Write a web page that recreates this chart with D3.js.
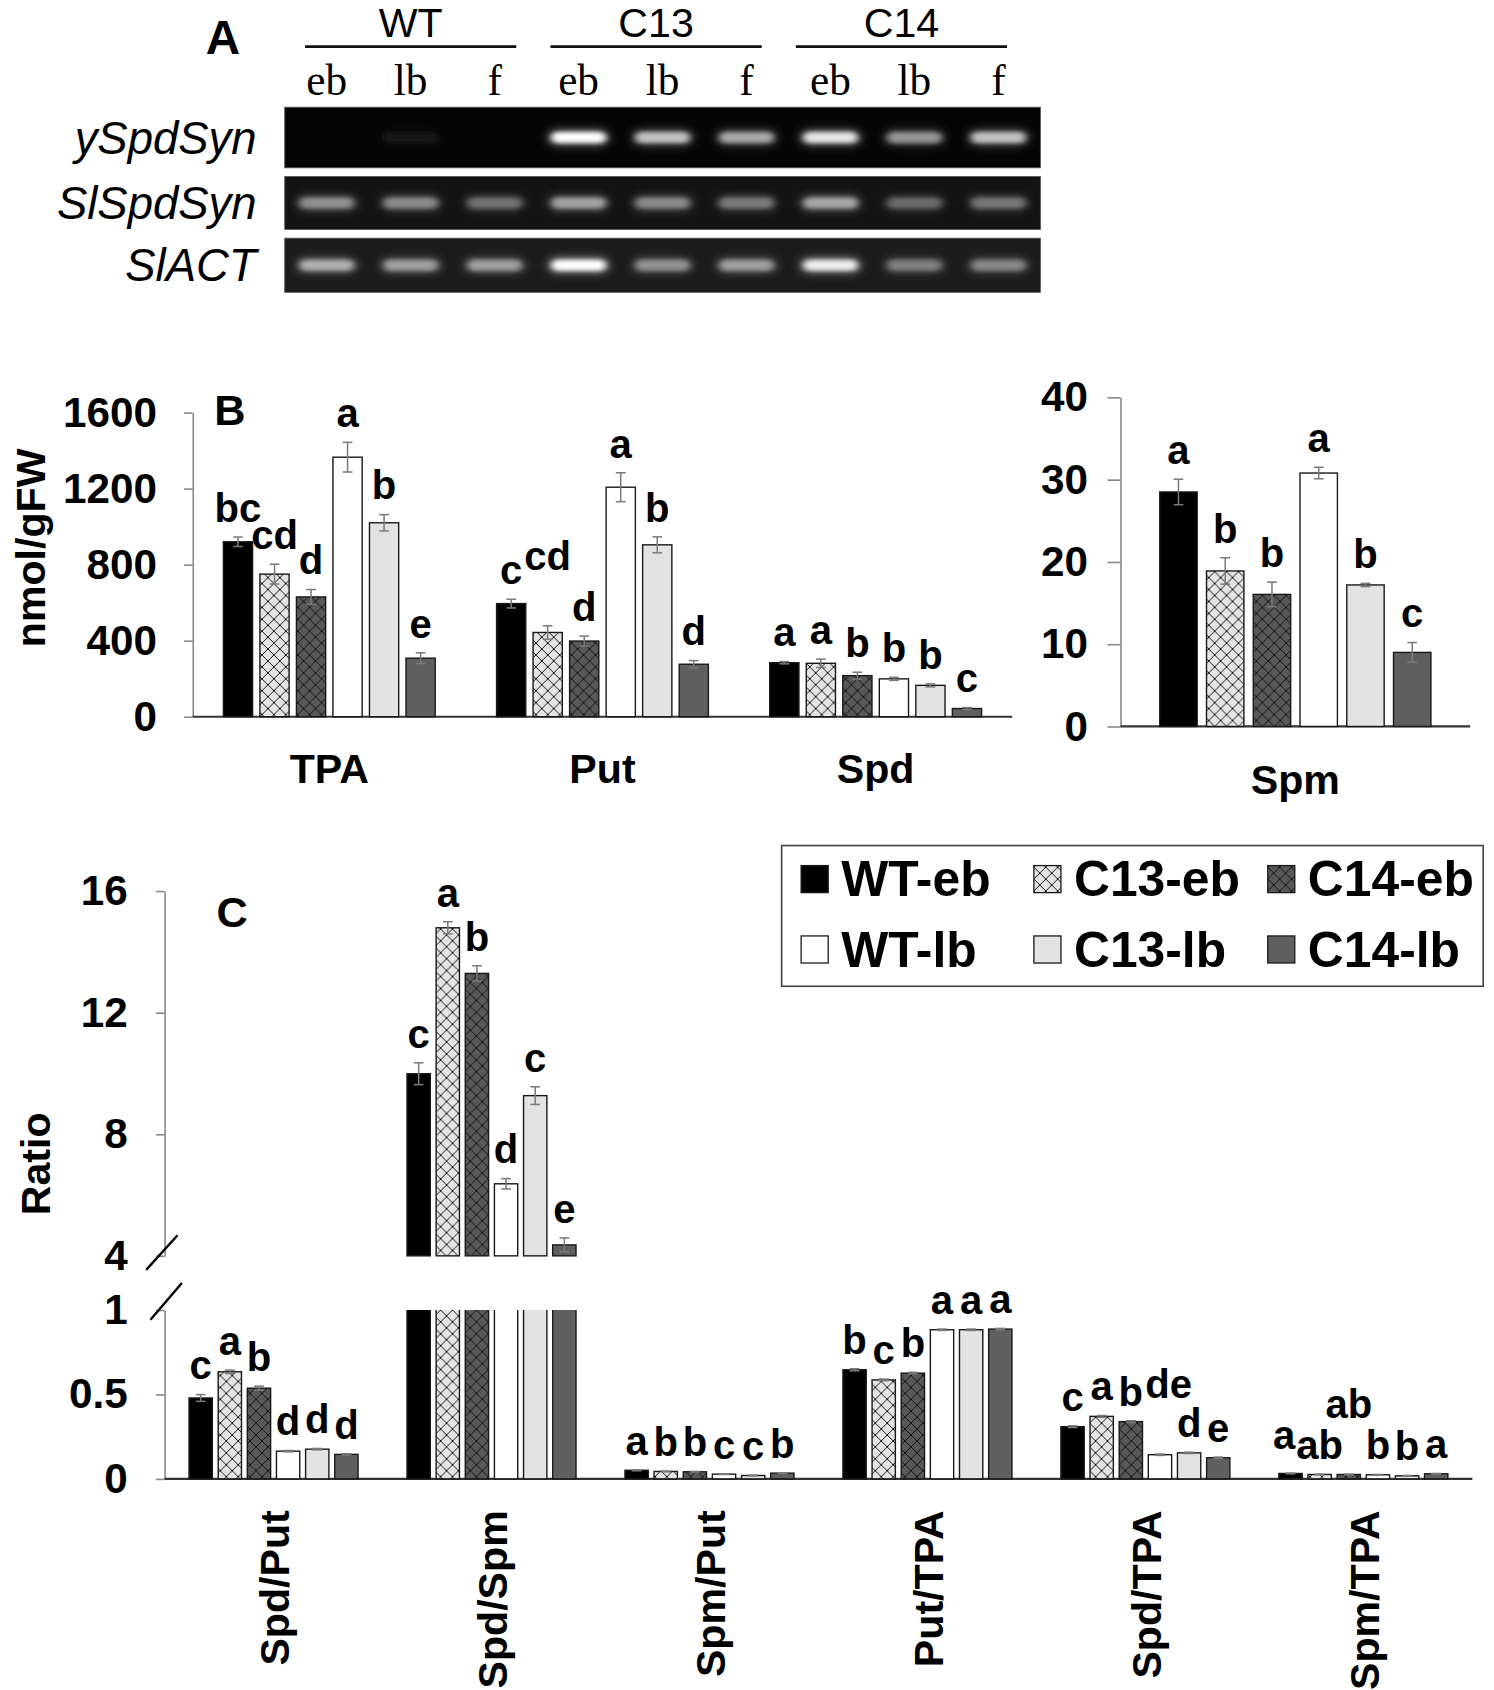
<!DOCTYPE html>
<html>
<head>
<meta charset="utf-8">
<script src="https://cdn.jsdelivr.net/npm/d3@7"></script>
<style>
  body { margin: 0; background: #fff; }
  svg { display: block; font-family: 'Liberation Sans', Arial, sans-serif; }
  .bold { font-weight: bold; }
  .letter { font-weight: bold; font-size: 37px; }
</style>
</head>
<body>
<div id="chart"></div>
<script>
// ---- panel A: RT-PCR gel ----
const gelLines = ['WT', 'C13', 'C14']
const gelStages = ['eb', 'lb', 'f']
const gelGenes = ['ySpdSyn', 'SlSpdSyn', 'SlACT']
const ySpdSynBand = [0, 0.07, 0, 0.95, 0.72, 0.62, 0.85, 0.55, 0.72]
const slSpdSynBand = [0.5, 0.48, 0.38, 0.58, 0.48, 0.42, 0.6, 0.35, 0.4]
const slActBand = [0.62, 0.55, 0.55, 1, 0.5, 0.55, 0.88, 0.42, 0.45]

// ---- panel B: polyamine content (nmol/gFW) ----
const series = ['WT-eb', 'C13-eb', 'C14-eb', 'WT-lb', 'C13-lb', 'C14-lb']
const amineGroups = ['TPA', 'Put', 'Spd']
const tpaMean = [920, 750, 630, 1365, 1020, 308]
const tpaErr = [25, 52, 39, 78, 43, 28]
const tpaLetters = ['bc', 'cd', 'd', 'a', 'b', 'e']
const putMean = [595, 443, 398, 1207, 904, 276]
const putErr = [23, 35, 26, 76, 42, 19]
const putLetters = ['c', 'cd', 'd', 'a', 'b', 'd']
const spdMean = [284, 281, 216, 199, 165, 43]
const spdErr = [6, 22, 18, 8, 8, 5]
const spdLetters = ['a', 'a', 'b', 'b', 'b', 'c']
const spmMean = [28.5, 18.9, 16.05, 30.8, 17.2, 9.0]
const spmErr = [1.55, 1.6, 1.5, 0.7, 0.2, 1.2]
const spmLetters = ['a', 'b', 'b', 'a', 'b', 'c']
const amineTicks = [0, 400, 800, 1200, 1600]
const spmTicks = [0, 10, 20, 30, 40]

// ---- panel C: ratios ----
const ratioGroups = ['Spd/Put', 'Spd/Spm', 'Spm/Put', 'Put/TPA', 'Spd/TPA', 'Spm/TPA']
const spdPutMean = [0.479, 0.634, 0.537, 0.164, 0.176, 0.145]
const spdPutErr = [0.02, 0.01, 0.012, 0.004, 0.004, 0.004]
const spdPutLetters = ['c', 'a', 'b', 'd', 'd', 'd']
const spdSpmMean = [9.99, 14.79, 13.29, 6.37, 9.27, 4.36]
const spdSpmErr = [0.36, 0.2, 0.25, 0.17, 0.29, 0.23]
const spdSpmLetters = ['c', 'a', 'b', 'd', 'c', 'e']
const spmPutMean = [0.051, 0.044, 0.042, 0.028, 0.02, 0.034]
const spmPutErr = [0.003, 0.002, 0.002, 0.002, 0.002, 0.002]
const spmPutLetters = ['a', 'b', 'b', 'c', 'c', 'b']
const putTpaMean = [0.646, 0.586, 0.626, 0.883, 0.883, 0.887]
const putTpaErr = [0.006, 0.005, 0.005, 0.004, 0.004, 0.004]
const putTpaLetters = ['b', 'c', 'b', 'a', 'a', 'a']
const spdTpaMean = [0.309, 0.37, 0.339, 0.143, 0.154, 0.125]
const spdTpaErr = [0.005, 0.005, 0.005, 0.004, 0.004, 0.004]
const spdTpaLetters = ['c', 'a', 'b', 'de', 'd', 'e']
const spmTpaMean = [0.032, 0.026, 0.026, 0.024, 0.018, 0.03]
const spmTpaErr = [0.002, 0.002, 0.002, 0.002, 0.002, 0.002]
const spmTpaLetters = ['a', 'ab', 'ab', 'b', 'b', 'a']
const ratioUpperTicks = [4, 8, 12, 16]
const ratioLowerTicks = [0, 0.5, 1]
// --------------------------------------------

const seriesFill = ['#000', 'url(#hatch-light)', 'url(#hatch-dark)', '#fff', '#e3e3e3', '#5f5f5f']

const svg = d3.select('#chart').append('svg')
  .attr('width', 1494).attr('height', 1690)
  .attr('viewBox', '0 0 1380 1561')

const defs = svg.append('defs')
const hatch = (id, bg) => {
  const p = defs.append('pattern').attr('id', id)
    .attr('patternUnits', 'userSpaceOnUse').attr('width', 11).attr('height', 11)
  p.append('rect').attr('width', 11).attr('height', 11).attr('fill', bg)
  p.append('path').attr('d', 'M0,0L11,11M11,0L0,11')
    .attr('stroke', '#111').attr('stroke-width', 0.9)
}
hatch('hatch-light', '#e4e4e4')
hatch('hatch-dark', '#585858')
defs.append('filter').attr('id', 'glow').attr('x', '-50%').attr('y', '-100%').attr('width', '200%').attr('height', '300%')
  .append('feGaussianBlur').attr('stdDeviation', '5 4')
defs.append('filter').attr('id', 'core').attr('x', '-50%').attr('y', '-100%').attr('width', '200%').attr('height', '300%')
  .append('feGaussianBlur').attr('stdDeviation', '3.5 2.2')
defs.append('clipPath').attr('id', 'clip-low')
  .append('rect').attr('x', 0).attr('y', 1210).attr('width', 1380).attr('height', 200)

// ================= panel A =================
const drawGel = () => {
  const a = svg.append('g')
  a.append('text').attr('class', 'bold').attr('x', 206).attr('y', 50)
    .attr('text-anchor', 'middle').attr('font-size', 44).text('A')

  const lanes = gelLines.flatMap(l => gelStages.map(s => l + '-' + s))
  const lane = d3.scaleBand().domain(lanes).range([263, 961])
  const laneCenter = l => lane(l) + lane.bandwidth() / 2

  gelLines.forEach((l, i) => {
    const first = laneCenter(l + '-' + gelStages[0])
    const last = laneCenter(l + '-' + gelStages[gelStages.length - 1])
    const shift = -6 * i
    a.append('line').attr('x1', first - 20 + shift).attr('x2', last + 20 + shift)
      .attr('y1', 43).attr('y2', 43).attr('stroke', '#111').attr('stroke-width', 2.5)
    a.append('text').attr('x', (first + last) / 2 + shift).attr('y', 34)
      .attr('text-anchor', 'middle').attr('font-size', 38).text(l)
  })

  a.selectAll('text.lane').data(lanes).join('text').attr('class', 'lane')
    .attr('x', laneCenter).attr('y', 88).attr('text-anchor', 'middle')
    .attr('font-family', "'Liberation Serif', 'Times New Roman', serif").attr('font-size', 40)
    .text(d => d.split('-')[1])

  const rows = [
    { top: 99, bottom: 155, bg: '#050505', bands: ySpdSynBand },
    { top: 163, bottom: 212, bg: '#131313', bands: slSpdSynBand },
    { top: 220, bottom: 270, bg: '#1b1b1b', bands: slActBand }
  ]
  rows.forEach((r, ri) => {
    const mid = (r.top + r.bottom) / 2
    a.append('rect').attr('x', 263).attr('y', r.top).attr('width', 698).attr('height', r.bottom - r.top)
      .attr('fill', r.bg).attr('stroke', '#555').attr('stroke-width', 0.8)
    a.append('text').attr('x', 237).attr('y', mid + 15).attr('text-anchor', 'end')
      .attr('font-style', 'italic').attr('font-size', 42).text(gelGenes[ri])
    const bands = a.append('g')
    lanes.forEach((l, i) => {
      const v = r.bands[i]
      if (!v) return
      const cx = laneCenter(l)
      bands.append('rect').attr('x', cx - 28).attr('y', mid - 8).attr('width', 56).attr('height', 16)
        .attr('rx', 8).attr('fill', '#fff').attr('opacity', v * 0.35).attr('filter', 'url(#glow)')
      bands.append('rect').attr('x', cx - 25).attr('y', mid - 5).attr('width', 50).attr('height', 10)
        .attr('rx', 5).attr('fill', d3.interpolateRgb(r.bg, '#ffffff')(Math.min(1, v * 1.05)))
        .attr('filter', 'url(#core)')
    })
  })
}

// ================= shared bar helpers =================
const inner = d3.scaleBand().domain(series).paddingInner(0.2).paddingOuter(0.84)

const styleAxis = g => {
  g.attr('font-size', 39).attr('font-family', null).attr('font-weight', 'bold')
  g.select('.domain').attr('stroke', '#8a8a8a').attr('stroke-width', 1.5)
  g.selectAll('.tick line').attr('stroke', '#8a8a8a').attr('stroke-width', 1.5)
  g.selectAll('.tick text').attr('fill', '#000')
}

// letters sit above the error bar; wide ones that would collide step up a line
const placeLetters = (g, items) => {
  const texts = g.selectAll(null).data(items).join('text')
    .attr('class', 'letter').attr('text-anchor', 'middle').text(d => d.text)
    .attr('x', d => d.x)
  texts.each(function (d) {
    d.w = this.getComputedTextLength()
    d.y = d.yTop - 14
  })
  const overlap = (p, q) => p.w / 2 + q.w / 2 - Math.abs(p.x - q.x)
  for (let i = items.length - 1; i >= 0; i--) {
    const p = items[i]
    for (let j = i + 1; j < items.length; j++) {
      const q = items[j]
      const o = overlap(p, q)
      if (Math.abs(p.y - q.y) >= 18) continue
      if (p.text.length > 1 && o > -2) {
        p.y -= 38
        const left = items[i - 1]
        if (left && Math.abs(left.y - p.y) < 18 && overlap(p, left) > 0) p.x += overlap(p, left) + 2
        break
      }
      if (p.text.length === 1 && o > 0) {
        p.y -= 8
        p.x -= o + 1
        break
      }
    }
  }
  texts.attr('x', d => d.x).attr('y', d => d.y)
}

const drawGroup = (g, x, group, means, errs, letters, y, floor) => {
  const xi = inner.copy().range([x(group), x(group) + x.bandwidth()])
  const mid = s => xi(s) + xi.bandwidth() / 2
  const rows = series.map((s, i) => ({ s, i, v: means[i], e: errs[i], text: letters[i] }))
  const gg = g.append('g')
  gg.selectAll('rect').data(rows).join('rect')
    .attr('x', d => xi(d.s)).attr('width', xi.bandwidth())
    .attr('y', d => y(d.v)).attr('height', d => y(floor) - y(d.v))
    .attr('fill', d => seriesFill[d.i]).attr('stroke', '#1a1a1a').attr('stroke-width', 1.3)
  const err = gg.selectAll('g.err').data(rows).join('g').attr('class', 'err')
    .attr('stroke', '#7a7a7a').attr('stroke-width', 1.4)
  err.append('line').attr('x1', d => mid(d.s)).attr('x2', d => mid(d.s))
    .attr('y1', d => y(d.v + d.e)).attr('y2', d => y(d.v - d.e))
  err.append('line').attr('x1', d => mid(d.s) - 4.5).attr('x2', d => mid(d.s) + 4.5)
    .attr('y1', d => y(d.v + d.e)).attr('y2', d => y(d.v + d.e))
  err.append('line').attr('x1', d => mid(d.s) - 4.5).attr('x2', d => mid(d.s) + 4.5)
    .attr('y1', d => y(d.v - d.e)).attr('y2', d => y(d.v - d.e))
  placeLetters(gg, rows.map(d => ({ x: mid(d.s), yTop: y(d.v + d.e), text: d.text })))
  return xi
}

// ================= panel B =================
const drawAmines = () => {
  const b = svg.append('g')
  const x = d3.scaleBand().domain(amineGroups).range([178, 935])
  const y = d3.scaleLinear().domain([0, 1600]).range([662, 381])

  b.append('g').attr('transform', 'translate(178,0)')
    .call(d3.axisLeft(y).tickValues(amineTicks).tickFormat(d3.format('d'))
      .tickSize(8).tickSizeOuter(0).tickPadding(25))
    .call(styleAxis)
  b.append('line').attr('x1', 178).attr('x2', 935).attr('y1', y(0)).attr('y2', y(0))
    .attr('stroke', '#333').attr('stroke-width', 2)

  drawGroup(b, x, 'TPA', tpaMean, tpaErr, tpaLetters, y, 0)
  drawGroup(b, x, 'Put', putMean, putErr, putLetters, y, 0)
  drawGroup(b, x, 'Spd', spdMean, spdErr, spdLetters, y, 0)

  b.selectAll('text.grp').data(amineGroups).join('text').attr('class', 'grp bold')
    .attr('x', d => x(d) + x.bandwidth() / 2).attr('y', 723)
    .attr('text-anchor', 'middle').attr('font-size', 38).text(d => d)

  b.append('text').attr('class', 'bold').attr('transform', 'translate(42,506) rotate(-90)')
    .attr('text-anchor', 'middle').attr('font-size', 38).text('nmol/gFW')
  b.append('text').attr('class', 'bold').attr('x', 198).attr('y', 393)
    .attr('font-size', 40).text('B')

  // Spm on its own scale
  const xs = d3.scaleBand().domain(['Spm']).range([1035, 1358])
  const ys = d3.scaleLinear().domain([0, 40]).range([671, 367])
  b.append('g').attr('transform', 'translate(1035,0)')
    .call(d3.axisLeft(ys).tickValues(spmTicks).tickSize(12).tickSizeOuter(0).tickPadding(18))
    .call(styleAxis)
  b.append('line').attr('x1', 1035).attr('x2', 1358).attr('y1', ys(0)).attr('y2', ys(0))
    .attr('stroke', '#333').attr('stroke-width', 2)
  drawGroup(b, xs, 'Spm', spmMean, spmErr, spmLetters, ys, 0)
  b.append('text').attr('class', 'bold').attr('x', xs('Spm') + xs.bandwidth() / 2).attr('y', 733)
    .attr('text-anchor', 'middle').attr('font-size', 38).text('Spm')
}

// ================= panel C =================
const drawRatios = () => {
  const c = svg.append('g')
  const x = d3.scaleBand().domain(ratioGroups).range([152, 1360])
  const yUp = d3.scaleLinear().domain([4, 16]).range([1160, 823])
  const yLow = d3.scaleLinear().domain([0, 1]).range([1366, 1210])

  c.append('g').attr('transform', 'translate(152,0)')
    .call(d3.axisLeft(yUp).tickValues(ratioUpperTicks).tickSize(8).tickSizeOuter(0).tickPadding(26))
    .call(styleAxis)
  c.append('g').attr('transform', 'translate(152,0)')
    .call(d3.axisLeft(yLow).tickValues(ratioLowerTicks).tickFormat(d3.format('~g'))
      .tickSize(8).tickSizeOuter(0).tickPadding(26))
    .call(styleAxis)
  c.append('line').attr('x1', 152).attr('x2', 1360).attr('y1', yLow(0)).attr('y2', yLow(0))
    .attr('stroke', '#333').attr('stroke-width', 2)

  // axis break marks
  c.append('path').attr('d', 'M135,1173L164,1141M139,1219L168,1185')
    .attr('stroke', '#000').attr('stroke-width', 2.2).attr('fill', 'none')

  drawGroup(c, x, 'Spd/Put', spdPutMean, spdPutErr, spdPutLetters, yLow, 0)
  // Spd/Spm sits on the broken upper scale, its lower part is cut at 1
  const xi = drawGroup(c, x, 'Spd/Spm', spdSpmMean, spdSpmErr, spdSpmLetters, yUp, 4)
  c.append('g').attr('clip-path', 'url(#clip-low)')
    .selectAll('rect').data(series).join('rect')
    .attr('x', d => xi(d)).attr('width', xi.bandwidth())
    .attr('y', yLow(1) - 6).attr('height', yLow(0) - yLow(1) + 6)
    .attr('fill', (d, i) => seriesFill[i]).attr('stroke', '#1a1a1a').attr('stroke-width', 1.3)
  drawGroup(c, x, 'Spm/Put', spmPutMean, spmPutErr, spmPutLetters, yLow, 0)
  drawGroup(c, x, 'Put/TPA', putTpaMean, putTpaErr, putTpaLetters, yLow, 0)
  drawGroup(c, x, 'Spd/TPA', spdTpaMean, spdTpaErr, spdTpaLetters, yLow, 0)
  drawGroup(c, x, 'Spm/TPA', spmTpaMean, spmTpaErr, spmTpaLetters, yLow, 0)

  c.selectAll('text.grp').data(ratioGroups).join('text').attr('class', 'grp bold')
    .attr('transform', d => `translate(${x(d) + x.bandwidth() / 2 + 14},1395) rotate(-90)`)
    .attr('text-anchor', 'end').attr('font-size', 38).text(d => d)

  c.append('text').attr('class', 'bold').attr('transform', 'translate(46,1075) rotate(-90)')
    .attr('text-anchor', 'middle').attr('font-size', 38).text('Ratio')
  c.append('text').attr('class', 'bold').attr('x', 200).attr('y', 856)
    .attr('font-size', 40).text('C')
}

const drawLegend = () => {
  const l = svg.append('g')
  l.append('rect').attr('x', 722).attr('y', 781).attr('width', 648).attr('height', 130)
    .attr('fill', '#fff').attr('stroke', '#444').attr('stroke-width', 1.5)
  const cols = [740, 955, 1171]
  const rows = [812, 877]
  const item = l.selectAll('g.item').data(series).join('g').attr('class', 'item')
    .attr('transform', (d, i) => `translate(${cols[i % 3]},${rows[Math.floor(i / 3)]})`)
  item.append('rect').attr('x', 0).attr('y', -12.5).attr('width', 25).attr('height', 25)
    .attr('fill', (d, i) => seriesFill[i]).attr('stroke', '#1a1a1a').attr('stroke-width', 1.2)
  item.append('text').attr('class', 'bold').attr('x', 37).attr('y', 16)
    .attr('font-size', 46).text(d => d)
}

drawGel()
drawAmines()
drawRatios()
drawLegend()
</script>
</body>
</html>
